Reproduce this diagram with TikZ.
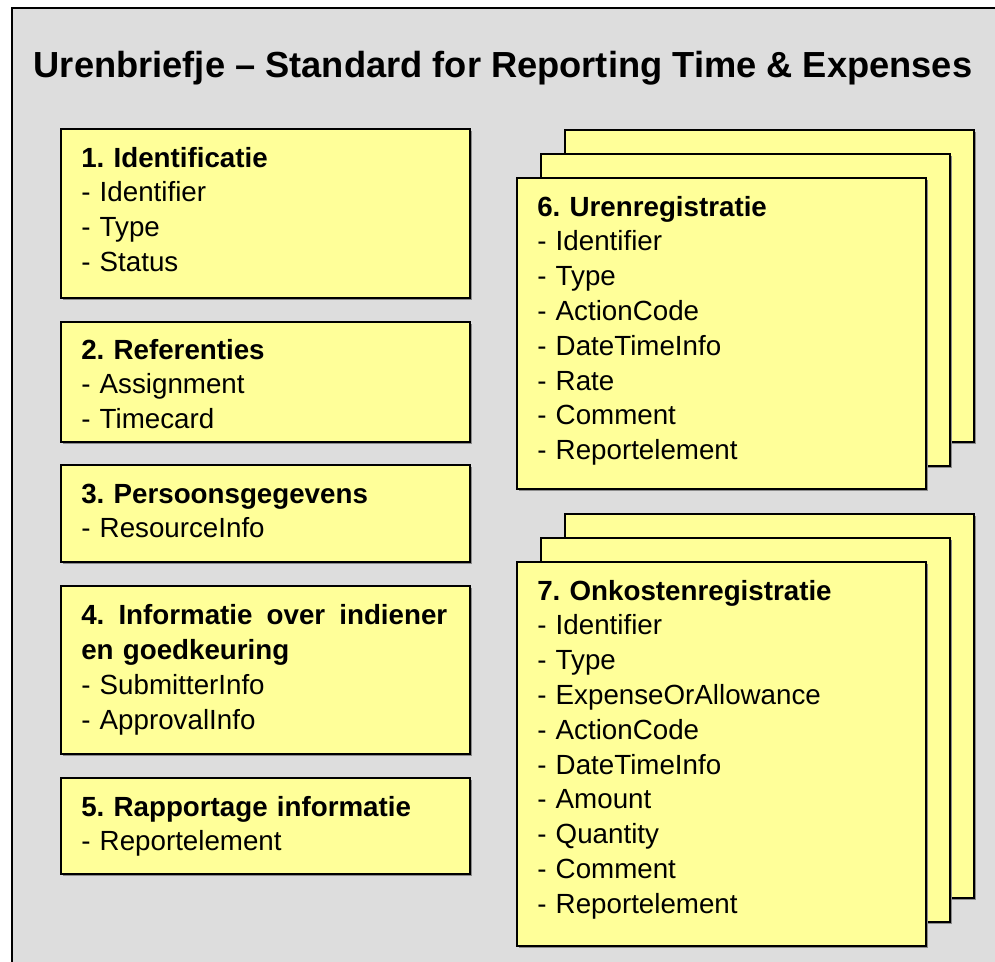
\documentclass[tikz,border=0pt]{standalone}
\usepackage{fontspec}
\setmainfont{Liberation Sans}
\usetikzlibrary{shadows}
\definecolor{bggray}{HTML}{DDDDDD}
\definecolor{cardyellow}{HTML}{FFFF99}
\newcommand{\bodyfont}{\fontsize{20.8}{26.1}\selectfont\frenchspacing}
\begin{document}
\frenchspacing
\begin{tikzpicture}[x=0.75pt,y=-0.75pt,
  card/.style={draw=black, line width=1.6pt, fill=cardyellow, inner sep=0pt, anchor=north west,
    minimum width={409*0.75pt},
    drop shadow={shadow xshift=1.2pt, shadow yshift=-1.2pt, fill=black!45, opacity=1}},
  txt/.style={anchor=north west, inner sep=0pt, text width=300pt, align=left, font=\bodyfont},
  title/.style={anchor=base west, inner sep=0pt, font=\fontsize{27.2}{32}\selectfont\bfseries}
]
\useasboundingbox (0,0) rectangle (995,962);
\clip (0,0) rectangle (995,962);
\draw[line width=1.6pt, fill=bggray] (12,8) rectangle (1010,990);

\node[title] (title) at (33.5,78) {Urenbriefje – Standard for Reporting Time \& Expenses};

% left column
\node[card, minimum height={169*0.75pt}] (b1) at (60,128) {};
\node[card, minimum height={120*0.75pt}] (b2) at (60,321) {};
\node[card, minimum height={97*0.75pt}]  (b3) at (60,464) {};
\node[card, minimum height={168*0.75pt}] (b4) at (60,585) {};
\node[card, minimum height={96*0.75pt}]  (b5) at (60,777) {};

\node[txt] (t1) at ([shift={(21,14.5)}]b1.north west)
  {\strut\textbf{1. Identificatie}\\\strut- Identifier\\\strut- Type\\\strut- Status};
\node[txt] (t2) at ([shift={(21,13.5)}]b2.north west)
  {\strut\textbf{2. Referenties}\\\strut- Assignment\\\strut- Timecard};
\node[txt] (t3) at ([shift={(21,14.5)}]b3.north west)
  {\strut\textbf{3. Persoonsgegevens}\\\strut- ResourceInfo};
\node[txt] (t4) at ([shift={(21,15)}]b4.north west)
  {\strut\hbox to 274.5pt{\bfseries 4.\ \hfill Informatie\ \hfill over\ \hfill indiener}\\\strut\textbf{en goedkeuring}\\\strut- SubmitterInfo\\\strut- ApprovalInfo};
\node[txt] (t5) at ([shift={(21,14.5)}]b5.north west)
  {\strut\textbf{5. Rapportage informatie}\\\strut- Reportelement};

% stack 6
\node[card, minimum height={312*0.75pt}] (c6a) at (564,129) {};
\node[card, minimum height={312*0.75pt}] (c6b) at (540,153) {};
\node[card, minimum height={311*0.75pt}] (c6c) at (516,177) {};
\node[txt] (t6) at ([shift={(21,14.5)}]c6c.north west)
  {\strut\textbf{6. Urenregistratie}\\\strut- Identifier\\\strut- Type\\\strut- ActionCode\\\strut- DateTimeInfo\\\strut- Rate\\\strut- Comment\\\strut- Reportelement};

% stack 7
\node[card, minimum height={384*0.75pt}] (c7a) at (564,513) {};
\node[card, minimum height={384*0.75pt}] (c7b) at (540,537) {};
\node[card, minimum height={384*0.75pt}] (c7c) at (516,561) {};
\node[txt] (t7) at ([shift={(21,14.5)}]c7c.north west)
  {\strut\textbf{7. Onkostenregistratie}\\\strut- Identifier\\\strut- Type\\\strut- ExpenseOrAllowance\\\strut- ActionCode\\\strut- DateTimeInfo\\\strut- Amount\\\strut- Quantity\\\strut- Comment\\\strut- Reportelement};
\end{tikzpicture}
\end{document}
